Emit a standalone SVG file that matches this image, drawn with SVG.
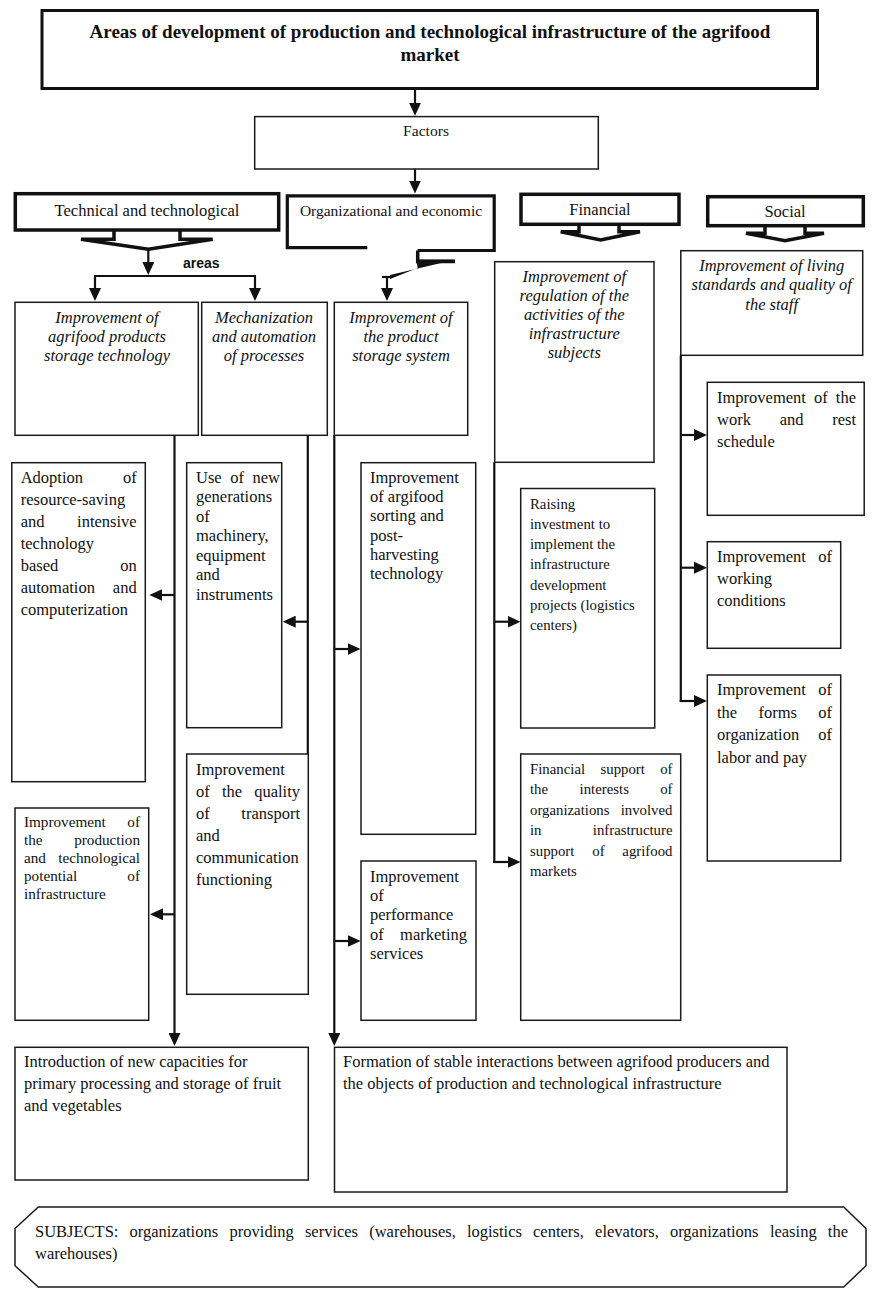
<svg xmlns="http://www.w3.org/2000/svg" width="882" height="1290" viewBox="0 0 882 1290">
<defs>
<marker id="ah" markerUnits="userSpaceOnUse" markerWidth="13" markerHeight="12" refX="3" refY="6" orient="auto" viewBox="0 0 13 12"><path d="M0,0 L13,6 L0,12 Z" fill="#111"/></marker>
<style>
.bx{fill:#fff;stroke:#1a1a1a;stroke-width:1.5}
.tk{fill:#fff;stroke:#111;stroke-width:3.5}
.co{fill:none;stroke:#111;stroke-width:3.5;stroke-linejoin:miter}
.ln{fill:none;stroke:#111;stroke-width:2.2}
.ar{marker-end:url(#ah)}
text{font-family:"Liberation Serif","Times New Roman",serif;font-size:16.5px;fill:#111}
.it{font-style:italic;text-anchor:middle}
.sm{font-size:14.8px}
.xs{font-size:15.2px}
.e{text-anchor:end}
.m{text-anchor:middle}
</style>
</defs>
<rect width="882" height="1290" fill="#fff"/>

<g id="title">
<rect x="42" y="10.5" width="775.5" height="78" fill="#fff" stroke="#111" stroke-width="3"/>
<text x="430" y="38" class="m" style="font-size:19px;font-weight:bold">Areas of development of production and technological infrastructure of the agrifood</text>
<text x="430" y="61" class="m" style="font-size:19px;font-weight:bold">market</text>
</g>

<g id="factors">
<rect class="bx" x="254.7" y="116.6" width="343.6" height="52.4"/>
<text x="426" y="136" class="m" style="font-size:15.6px">Factors</text>
</g>

<g id="technical">
<rect class="tk" x="15.3" y="193.7" width="263.4" height="36.3"/>
<path class="co" d="M114,230 V239.3 H81 L148.3,249.3 L212.7,239.3 H180 V230"/>
<text x="147" y="216" class="m">Technical and technological</text>
</g>

<g id="organizational">
<path d="M367.3,247.7 H287.3 V195.8 H494.2 V250.5 H417.7" fill="#fff" stroke="#111" stroke-width="3.2"/>
<path class="co" d="M417.7,250.5 V261.5 H455"/>
<polygon points="416,259.5 456,259.5 390,275 390,279 417.7,268" fill="#111"/>
<text x="391" y="215.7" class="m" style="font-size:15.5px">Organizational and economic</text>
</g>

<g id="financial">
<rect class="tk" x="521" y="194.3" width="158" height="30"/>
<path class="co" d="M579,224.3 V231.7 H560.7 L600.7,240 L640,231.7 H619 V224.3"/>
<text x="600" y="215" class="m">Financial</text>
</g>

<g id="social">
<rect class="tk" x="707.7" y="196.7" width="155.6" height="29"/>
<path class="co" d="M765,225.7 V233.3 H746 L785,240.7 L824,233.3 H805 V225.7"/>
<text x="785" y="217" class="m">Social</text>
</g>

<g id="areas-label">
<text x="183" y="268" style="font-family:'Liberation Sans',Arial,sans-serif;font-size:14px;font-weight:bold">areas</text>
</g>

<g id="storage-tech">
<rect class="bx" x="15" y="302.3" width="183.3" height="133"/>
<text class="it" x="107" y="323">Improvement of</text>
<text class="it" x="107" y="342">agrifood products</text>
<text class="it" x="107" y="361">storage technology</text>
</g>

<g id="mechanization">
<rect class="bx" x="201.7" y="302.3" width="125.6" height="133"/>
<text class="it" x="264" y="323">Mechanization</text>
<text class="it" x="264" y="342">and automation</text>
<text class="it" x="264" y="361">of processes</text>
</g>

<g id="storage-system">
<rect class="bx" x="334.3" y="302.3" width="133.4" height="133"/>
<text class="it" x="401" y="323">Improvement of</text>
<text class="it" x="401" y="342">the product</text>
<text class="it" x="401" y="361">storage system</text>
</g>

<g id="regulation">
<rect class="bx" x="494.7" y="261.7" width="159.3" height="200.6"/>
<text class="it" x="574.3" y="282">Improvement of</text>
<text class="it" x="574.3" y="301">regulation of the</text>
<text class="it" x="574.3" y="320">activities of the</text>
<text class="it" x="574.3" y="339">infrastructure</text>
<text class="it" x="574.3" y="358">subjects</text>
</g>

<g id="living">
<rect class="bx" x="680.8" y="250.7" width="181.9" height="104.6"/>
<text class="it" x="771.7" y="270.5">Improvement of living</text>
<text class="it" x="771.7" y="290">standards and quality of</text>
<text class="it" x="771.7" y="309.5">the staff</text>
</g>

<g id="adoption">
<rect class="bx" x="11.8" y="462.7" width="133.5" height="319"/>
<text y="483"><tspan x="20.7">Adoption</tspan><tspan x="136.7" class="e">of</tspan></text>
<text x="20.7" y="505">resource-saving</text>
<text y="527"><tspan x="20.7">and</tspan><tspan x="136.7" class="e">intensive</tspan></text>
<text x="20.7" y="549">technology</text>
<text y="571"><tspan x="20.7">based</tspan><tspan x="136.7" class="e">on</tspan></text>
<text y="593"><tspan x="20.7">automation</tspan><tspan x="136.7" class="e">and</tspan></text>
<text x="20.7" y="615">computerization</text>
</g>

<g id="new-generations">
<rect class="bx" x="186.7" y="462.7" width="95" height="265"/>
<text y="482.7"><tspan x="196">Use</tspan><tspan x="230.2">of</tspan><tspan x="280" class="e">new</tspan></text>
<text x="196" y="502.2">generations</text>
<text x="196" y="521.7">of</text>
<text x="196" y="541.2">machinery,</text>
<text x="196" y="560.7">equipment</text>
<text x="196" y="580.2">and</text>
<text x="196" y="599.7">instruments</text>
</g>

<g id="transport">
<rect class="bx" x="186.7" y="754" width="121.6" height="240.3"/>
<text x="196" y="775">Improvement</text>
<text y="797"><tspan x="196">of</tspan><tspan x="221.9">the</tspan><tspan x="300" class="e">quality</tspan></text>
<text y="819"><tspan x="196">of</tspan><tspan x="300" class="e">transport</tspan></text>
<text x="196" y="841">and</text>
<text x="196" y="863">communication</text>
<text x="196" y="885">functioning</text>
</g>

<g id="potential">
<rect class="bx" x="15" y="808" width="133.7" height="212.3"/>
<text class="xs" y="827"><tspan x="24">Improvement</tspan><tspan x="140" class="e">of</tspan></text>
<text class="xs" y="845"><tspan x="24">the</tspan><tspan x="140" class="e">production</tspan></text>
<text class="xs" y="863"><tspan x="24">and</tspan><tspan x="140" class="e">technological</tspan></text>
<text class="xs" y="881"><tspan x="24">potential</tspan><tspan x="140" class="e">of</tspan></text>
<text class="xs" x="24" y="899">infrastructure</text>
</g>

<g id="sorting">
<rect class="bx" x="361" y="462.7" width="114.7" height="371.6"/>
<text x="370" y="482.7">Improvement</text>
<text x="370" y="502">of argifood</text>
<text x="370" y="521.3">sorting and</text>
<text x="370" y="540.6">post-</text>
<text x="370" y="560">harvesting</text>
<text x="370" y="579.3">technology</text>
</g>

<g id="marketing">
<rect class="bx" x="361" y="861" width="115" height="159.3"/>
<text x="370" y="881.7">Improvement</text>
<text x="370" y="901">of</text>
<text x="370" y="920.2">performance</text>
<text y="939.5"><tspan x="370">of</tspan><tspan x="467" class="e">marketing</tspan></text>
<text x="370" y="958.8">services</text>
</g>

<g id="investment">
<rect class="bx" x="520.7" y="488.5" width="134" height="239.5"/>
<text class="sm" x="530" y="508.5">Raising</text>
<text class="sm" x="530" y="528.8">investment to</text>
<text class="sm" x="530" y="549">implement the</text>
<text class="sm" x="530" y="569.3">infrastructure</text>
<text class="sm" x="530" y="589.6">development</text>
<text class="sm" x="530" y="609.9">projects (logistics</text>
<text class="sm" x="530" y="630.2">centers)</text>
</g>

<g id="financial-support">
<rect class="bx" x="520.7" y="754" width="160" height="266.3"/>
<text class="sm" y="773.5"><tspan x="530">Financial</tspan><tspan x="600.5">support</tspan><tspan x="672.5" class="e">of</tspan></text>
<text class="sm" y="794"><tspan x="530">the</tspan><tspan x="579.6">interests</tspan><tspan x="672.5" class="e">of</tspan></text>
<text class="sm" y="814.5"><tspan x="530">organizations</tspan><tspan x="672.5" class="e">involved</tspan></text>
<text class="sm" y="835"><tspan x="530">in</tspan><tspan x="672.5" class="e">infrastructure</tspan></text>
<text class="sm" y="855.5"><tspan x="530">support</tspan><tspan x="592.3">of</tspan><tspan x="672.5" class="e">agrifood</tspan></text>
<text class="sm" x="530" y="876">markets</text>
</g>

<g id="work-rest">
<rect class="bx" x="707.3" y="382.3" width="156.9" height="133"/>
<text y="403"><tspan x="717">Improvement</tspan><tspan x="814">of</tspan><tspan x="856" class="e">the</tspan></text>
<text y="425"><tspan x="717">work</tspan><tspan x="779.7">and</tspan><tspan x="856" class="e">rest</tspan></text>
<text x="717" y="447">schedule</text>
</g>

<g id="working-conditions">
<rect class="bx" x="707.3" y="541.7" width="133.4" height="106.6"/>
<text y="562"><tspan x="717">Improvement</tspan><tspan x="832" class="e">of</tspan></text>
<text x="717" y="584">working</text>
<text x="717" y="606">conditions</text>
</g>

<g id="labor-forms">
<rect class="bx" x="707.3" y="675" width="133.4" height="186"/>
<text y="695"><tspan x="717">Improvement</tspan><tspan x="832" class="e">of</tspan></text>
<text y="717.5"><tspan x="717">the</tspan><tspan x="758.5">forms</tspan><tspan x="832" class="e">of</tspan></text>
<text y="740"><tspan x="717">organization</tspan><tspan x="832" class="e">of</tspan></text>
<text x="717" y="762.5">labor and pay</text>
</g>

<g id="new-capacities">
<rect class="bx" x="15" y="1047.3" width="293.3" height="132.7"/>
<text x="24" y="1067">Introduction of new capacities for</text>
<text x="24" y="1089">primary processing and storage of fruit</text>
<text x="24" y="1111">and vegetables</text>
</g>

<g id="interactions">
<rect class="bx" x="334.5" y="1047.3" width="452.5" height="144.7"/>
<text x="343" y="1067">Formation of stable interactions between agrifood producers and</text>
<text x="343" y="1089">the objects of production and technological infrastructure</text>
</g>

<g id="subjects">
<polygon class="bx" points="38.3,1207 843.7,1207 866,1228.5 866,1265.7 843.7,1287 38.3,1287 15,1265.7 15,1228.5"/>
<text y="1237"><tspan x="35">SUBJECTS:</tspan><tspan x="129.5">organizations</tspan><tspan x="229.6">providing</tspan><tspan x="304.9">services</tspan><tspan x="369.2">(warehouses,</tspan><tspan x="466.9">logistics</tspan><tspan x="533">centers,</tspan><tspan x="595.1">elevators,</tspan><tspan x="669.9">organizations</tspan><tspan x="769.9">leasing</tspan><tspan x="848" class="e">the</tspan></text>
<text x="35" y="1259">warehouses)</text>
</g>

<g id="connectors">
<line class="ln ar" x1="415" y1="90" x2="415" y2="105.7"/>
<line class="ln ar" x1="415" y1="169" x2="415" y2="183.5"/>
<line class="ln ar" x1="148.3" y1="249.3" x2="148.3" y2="265"/>
<line class="ln" x1="94" y1="276" x2="256" y2="276"/>
<line class="ln ar" x1="95" y1="276" x2="95" y2="291"/>
<line class="ln ar" x1="255" y1="276" x2="255" y2="291"/>
<line class="ln" x1="382" y1="277" x2="392" y2="277"/>
<line class="ln ar" x1="387" y1="276" x2="387" y2="291"/>

<line class="ln ar" x1="174.5" y1="435.3" x2="174.5" y2="1036"/>
<line class="ln ar" x1="174.5" y1="595" x2="159.3" y2="595"/>
<line class="ln ar" x1="174.5" y1="914.3" x2="160" y2="914.3"/>

<line class="ln" x1="307.8" y1="435.3" x2="307.8" y2="754"/>
<line class="ln ar" x1="307.8" y1="621.7" x2="292.7" y2="621.7"/>

<line class="ln ar" x1="334.3" y1="435.3" x2="334.3" y2="1036"/>
<line class="ln ar" x1="334.3" y1="649" x2="350.5" y2="649"/>
<line class="ln ar" x1="334.3" y1="941" x2="350.7" y2="941"/>

<line class="ln" x1="494.3" y1="462.3" x2="494.3" y2="863"/>
<line class="ln ar" x1="494.3" y1="621.7" x2="510.5" y2="621.7"/>
<line class="ln ar" x1="493.2" y1="862" x2="510.5" y2="862"/>

<line class="ln" x1="680.8" y1="355.3" x2="680.8" y2="702"/>
<line class="ln ar" x1="680.8" y1="435" x2="697" y2="435"/>
<line class="ln ar" x1="680.8" y1="567.7" x2="697" y2="567.7"/>
<line class="ln ar" x1="679.7" y1="701" x2="697" y2="701"/>
</g>
</svg>
